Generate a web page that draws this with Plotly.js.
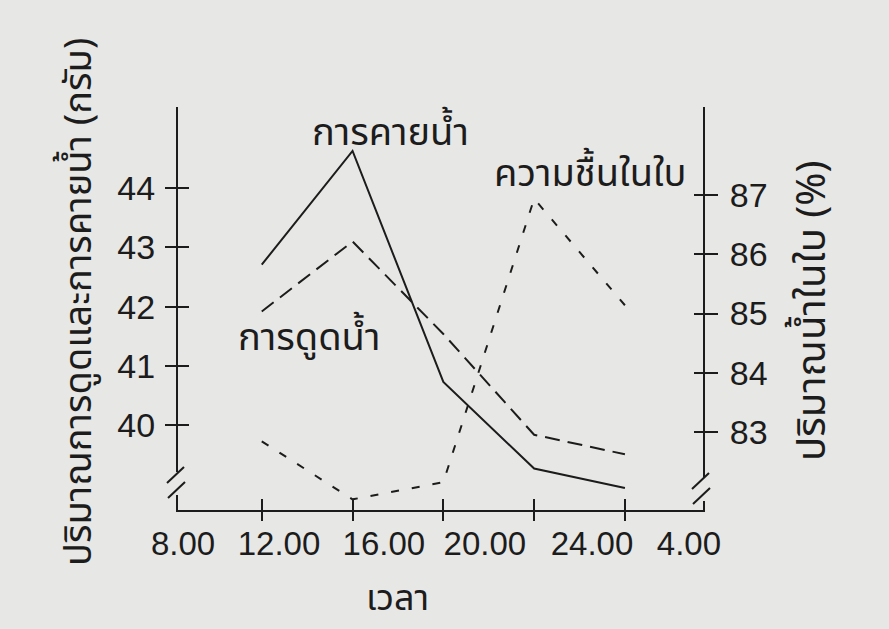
<!DOCTYPE html>
<html>
<head>
<meta charset="utf-8">
<script src="https://cdn.plot.ly/plotly-3.0.1.min.js"></script>
<style>
  html, body { margin: 0; padding: 0; background: #e7e7e5; }
  #chart { width: 889px; height: 629px; }
</style>
</head>
<body>
<div id="chart"></div>
<script>
// time of day in hours from 8.00 (28 = 4.00 next morning)
const hours = [12, 16, 20, 24, 28];
// grams
const transpiration = [42.71, 44.63, 40.73, 39.27, 38.94];
const absorption = [41.92, 43.10, 41.54, 39.84, 39.51];
// percent, right axis
const leafWater = [82.84, 81.86, 82.15, 86.94, 85.14];

const tickHours = [12, 16, 20, 24, 28];
// the printed labels do not sit on the tick marks in the original
const labelHours = [8.53, 12.76, 17.38, 21.83, 26.55, 30.82];
const labelText = ['8.00', '12.00', '16.00', '20.00', '24.00', '4.00'];
const leftTicks = [40, 41, 42, 43, 44];
const rightTicks = [83, 84, 85, 86, 87];

const INK = '#1c1c1c';
const BG = '#e7e7e5';
const SANS = 'Liberation Sans, Arial, sans-serif';
const THAI = 'Noto Sans Thai, Loma, Garuda, Noto Sans, DejaVu Sans, sans-serif';
const xTickFont = { family: SANS, size: 33, color: INK };
const yTickFont = { family: SANS, size: 34, color: INK };
const thaiFont = (size) => ({ family: THAI, size: size, color: INK });

const xRange = [8.31, 31.44];
const yRange = [38.57, 45.37];
const y2Range = [81.68, 88.49];

const traces = [
    {
        x: hours, y: transpiration, type: 'scatter', mode: 'lines',
        line: { color: INK, width: 2 }, hoverinfo: 'skip'
    },
    {
        x: hours, y: absorption, type: 'scatter', mode: 'lines',
        line: { color: INK, width: 2, dash: '15px,8px' }, hoverinfo: 'skip'
    },
    {
        x: hours, y: leafWater, type: 'scatter', mode: 'lines', yaxis: 'y2',
        line: { color: INK, width: 2, dash: '8px,13px' }, hoverinfo: 'skip'
    },
    // empty traces so the overlay tick axes get drawn
    { x: [], y: [], type: 'scatter', xaxis: 'x2', yaxis: 'y', hoverinfo: 'skip' },
    { x: [], y: [], type: 'scatter', xaxis: 'x3', yaxis: 'y', hoverinfo: 'skip' },
    { x: [], y: [], type: 'scatter', xaxis: 'x', yaxis: 'y3', hoverinfo: 'skip' },
    { x: [], y: [], type: 'scatter', xaxis: 'x', yaxis: 'y4', hoverinfo: 'skip' }
];

// tick marks cross the axis lines: main axis draws them outside, an overlay draws them inside
const tickAxis = (extra) => Object.assign({
    showgrid: false, zeroline: false, showline: false, showticklabels: false,
    tickmode: 'array', tickcolor: INK, tickwidth: 2, fixedrange: true
}, extra);

// axis breaks: blank the line, then draw the two slashes
function breakShapes(side, lift) {
    const xa = side === 'left' ? 0 : 1;
    const px = (x0, y0, x1, y1) => ({
        type: 'line', xref: 'paper', yref: 'paper',
        xsizemode: 'pixel', ysizemode: 'pixel', xanchor: xa, yanchor: 0,
        x0: x0, y0: y0 + lift, x1: x1, y1: y1 + lift,
        line: { color: INK, width: 2 }, layer: 'above'
    });
    const gap = {
        type: 'line', xref: 'paper', yref: 'paper',
        xsizemode: 'pixel', ysizemode: 'pixel', xanchor: xa, yanchor: 0,
        x0: 0, x1: 0, y0: 15 + lift, y1: 38 + lift,
        line: { color: BG, width: 6 }, layer: 'above'
    };
    return [gap, px(-11, 27, 6, 43), px(-10, 12, 7, 28)];
}

const layout = {
    width: 889,
    height: 629,
    paper_bgcolor: BG,
    plot_bgcolor: BG,
    showlegend: false,
    margin: { l: 178, r: 186, t: 107, b: 119 },
    xaxis: {
        range: xRange, showgrid: false, zeroline: false,
        showline: true, linecolor: INK, linewidth: 2,
        tickmode: 'array', tickvals: labelHours, ticktext: labelText,
        ticks: '', ticklabelstandoff: 3, tickfont: xTickFont, fixedrange: true
    },
    xaxis2: tickAxis({ overlaying: 'x', anchor: 'y', range: xRange, tickvals: tickHours, ticks: 'outside', ticklen: 10 }),
    xaxis3: tickAxis({ overlaying: 'x', anchor: 'y', range: xRange, tickvals: tickHours, ticks: 'inside', ticklen: 11 }),
    yaxis: {
        range: yRange, showgrid: false, zeroline: false,
        showline: true, linecolor: INK, linewidth: 2,
        tickmode: 'array', tickvals: leftTicks,
        ticks: 'outside', ticklen: 11, tickwidth: 2, tickcolor: INK,
        ticklabelstandoff: 3, tickfont: yTickFont, fixedrange: true
    },
    yaxis3: tickAxis({ overlaying: 'y', anchor: 'x', range: yRange, tickvals: leftTicks, ticks: 'inside', ticklen: 11 }),
    yaxis2: {
        overlaying: 'y', side: 'right', anchor: 'x',
        range: y2Range, showgrid: false, zeroline: false,
        showline: true, linecolor: INK, linewidth: 2,
        tickmode: 'array', tickvals: rightTicks,
        ticks: 'outside', ticklen: 13, tickwidth: 2, tickcolor: INK,
        ticklabelstandoff: 5, tickfont: yTickFont, fixedrange: true
    },
    yaxis4: tickAxis({ overlaying: 'y', side: 'right', anchor: 'x', range: y2Range, tickvals: rightTicks, ticks: 'inside', ticklen: 9 }),
    shapes: [].concat(breakShapes('left', 0), breakShapes('right', -6)),
    annotations: [
        // curve labels
        { text: 'การคายน้ำ', x: 17.69, y: 44.93, xref: 'x', yref: 'y',
          xanchor: 'center', yanchor: 'middle', showarrow: false, font: thaiFont(38) },
        { text: 'ความชื้นในใบ', x: 26.5, y: 87.35, xref: 'x', yref: 'y2',
          xanchor: 'center', yanchor: 'middle', showarrow: false, font: thaiFont(38) },
        { text: 'การดูดน้ำ', x: 14.08, y: 41.47, xref: 'x', yref: 'y',
          xanchor: 'center', yanchor: 'middle', showarrow: false, font: thaiFont(38) },
        // axis titles, placed where the original prints them
        { text: 'เวลา', x: 8.31 + (398 - 178) / 22.7, y: 0, xref: 'x', yref: 'paper', yshift: -89,
          xanchor: 'center', yanchor: 'middle', showarrow: false, font: thaiFont(36) },
        { text: 'ปริมาณการดูดและการคายน้ำ (กรัม)', x: 0, y: 0.516, xref: 'paper', yref: 'paper', xshift: -99,
          textangle: -90, xanchor: 'center', yanchor: 'middle', showarrow: false, font: thaiFont(38) },
        { text: 'ปริมาณน้ำในใบ (%)', x: 1, y: 0.494, xref: 'paper', yref: 'paper', xshift: 110,
          textangle: -90, xanchor: 'center', yanchor: 'middle', showarrow: false, font: thaiFont(40) }
    ]
};

Plotly.newPlot('chart', traces, layout, { displayModeBar: false, staticPlot: true });
</script>
</body>
</html>
